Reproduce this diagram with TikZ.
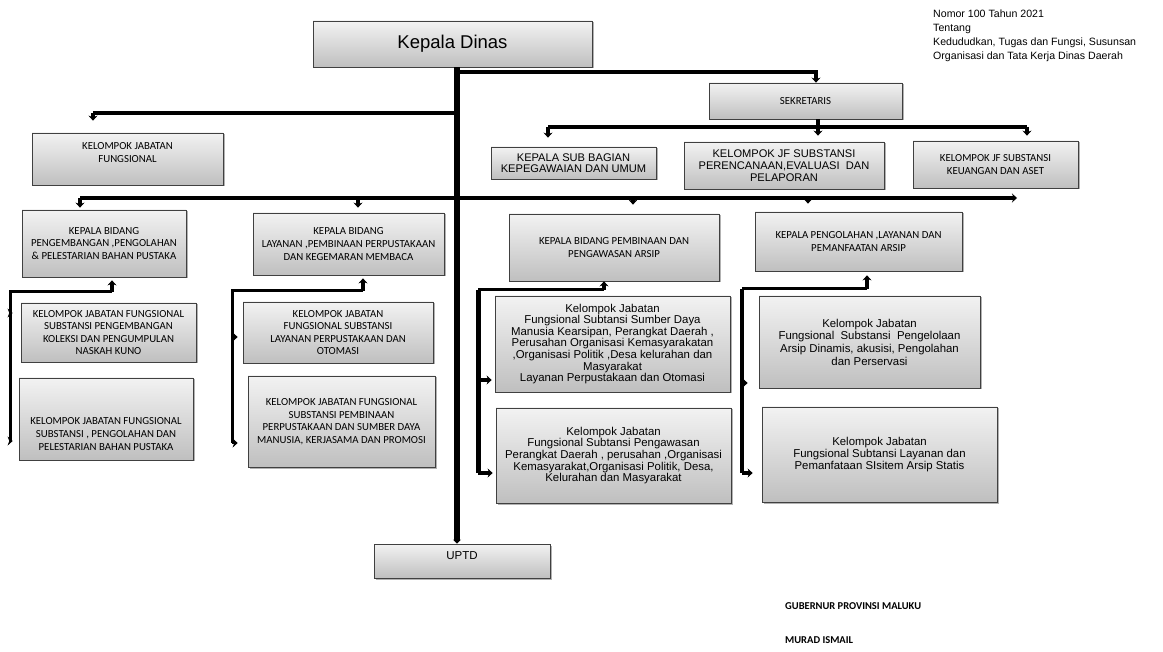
\documentclass[tikz,border=0pt]{standalone}
\usepackage{fontspec}
\setmainfont{Liberation Sans}
\newfontfamily\calib{Carlito}
\usetikzlibrary{arrows.meta,shadows}
\newcommand\bx[7]{\node[box,#6,minimum width={(#4-#2)*1pt},minimum height={(#5-#3)*1pt}] (#1) at ({(#2+#4)/2},{(#3+#5)/2}) {#7};}
\begin{document}
\begin{tikzpicture}[x=1pt,y=-1pt,
  box/.style={draw=black!75, line width=0.7pt, top color=gray!10, bottom color=gray!50,
    drop shadow={shadow xshift=1.5pt,shadow yshift=-1.5pt,opacity=0.3,fill=black},
    inner sep=0pt, align=center},
  ar/.style={font=\fontsize{11.4}{11.6}\selectfont},
  ca/.style={font=\calib\fontsize{10.8}{12.6}\selectfont},
  conn/.style={line width=3.5pt},
  arr/.style={line width=3.5pt,-{Stealth[length=5pt,width=9pt]}},
  plain/.style={inner sep=0pt, align=center}
]
\useasboundingbox (0,0) rectangle (1163,652);

% boxes
\bx{kd}{313}{21}{592}{67}{font=\fontsize{18.5}{20}\selectfont}{Kepala Dinas}
\bx{sek}{709}{83}{902}{119}{ca}{SEKRETARIS}
\bx{ksb}{491}{147}{656}{179}{font=\fontsize{11.1}{11.5}\selectfont}{KEPALA SUB BAGIAN\\KEPEGAWAIAN DAN UMUM}
\bx{kjfp}{684}{142}{884}{189}{font=\fontsize{11.1}{12}\selectfont}{KELOMPOK JF SUBSTANSI\\PERENCANAAN,EVALUASI\ \ DAN\\PELAPORAN}
\bx{kjfk}{913}{141}{1078}{188}{ca}{KELOMPOK JF SUBSTANSI\\KEUANGAN DAN ASET}
\bx{kjf}{32}{133}{223}{185}{}{}
\node[plain, ca] (kjft) at (127.5,152.5) {KELOMPOK JABATAN\\FUNGSIONAL};

\bx{kb1}{22}{210}{186}{277}{ca}{KEPALA BIDANG\\PENGEMBANGAN ,PENGOLAHAN\\\& PELESTARIAN BAHAN PUSTAKA}
\bx{kb2}{253}{213}{444}{275}{ca}{KEPALA BIDANG\\LAYANAN ,PEMBINAAN PERPUSTAKAAN\\DAN KEGEMARAN MEMBACA}
\bx{kb3}{509}{214}{719}{281}{ca}{KEPALA BIDANG PEMBINAAN DAN\\PENGAWASAN ARSIP}
\bx{kb4}{755}{212}{962}{271}{ca}{KEPALA PENGOLAHAN ,LAYANAN DAN\\PEMANFAATAN ARSIP}

\bx{s1a}{21}{303}{196}{362}{ca}{KELOMPOK JABATAN FUNGSIONAL\\SUBSTANSI PENGEMBANGAN\\KOLEKSI DAN PENGUMPULAN\\NASKAH KUNO}
\bx{s1b}{19}{378}{193}{460}{}{}
\node[plain, ca] (s1bt) at (106,434) {KELOMPOK JABATAN FUNGSIONAL\\SUBSTANSI , PENGOLAHAN DAN\\PELESTARIAN BAHAN PUSTAKA};
\bx{s2a}{243}{302}{433}{363}{ca}{KELOMPOK JABATAN\\FUNGSIONAL SUBSTANSI\\LAYANAN PERPUSTAKAAN DAN\\OTOMASI}
\bx{s2b}{248}{376}{435}{467}{ca}{KELOMPOK JABATAN FUNGSIONAL\\SUBSTANSI PEMBINAAN\\PERPUSTAKAAN DAN SUMBER DAYA\\MANUSIA, KERJASAMA DAN PROMOSI}
\bx{s3a}{495}{296}{730}{392}{ar}{Kelompok Jabatan\\Fungsional Subtansi Sumber Daya\\Manusia Kearsipan, Perangkat Daerah ,\\Perusahan Organisasi Kemasyarakatan\\,Organisasi Politik ,Desa kelurahan dan\\Masyarakat\\Layanan Perpustakaan dan Otomasi}
\bx{s3b}{496}{408}{731}{503}{ar}{Kelompok Jabatan\\Fungsional Subtansi Pengawasan\\Perangkat Daerah , perusahan ,Organisasi\\Kemasyarakat,Organisasi Politik, Desa,\\Kelurahan dan Masyarakat}
\bx{s4a}{759}{296}{980}{388}{font=\fontsize{11.4}{12.7}\selectfont}{Kelompok Jabatan\\Fungsional\ \ Substansi\ \ Pengelolaan\\Arsip Dinamis, akusisi, Pengolahan\\dan Perservasi}
\bx{s4b}{762}{407}{997}{502}{ar}{Kelompok Jabatan\\Fungsional Subtansi Layanan dan\\Pemanfataan SIsitem Arsip Statis}
\bx{uptd}{374}{544}{550}{578}{}{}
\node[plain, font=\fontsize{11.5}{12}\selectfont] (uptdt) at (462,556) {UPTD};

% free texts
\node[anchor=north west, align=left, inner sep=0pt, font=\fontsize{10.6}{14}\selectfont] (hdr) at (933,10)
  {Nomor 100 Tahun 2021\\Tentang\\Kedududkan, Tugas dan Fungsi, Susunsan\\Organisasi dan Tata Kerja Dinas Daerah};
\node[anchor=west, inner sep=0pt, font=\calib\bfseries\fontsize{10.5}{12}\selectfont] (gub) at (785,606) {GUBERNUR PROVINSI MALUKU};
\node[anchor=west, inner sep=0pt, font=\calib\bfseries\fontsize{10.5}{12}\selectfont] (mur) at (785,640) {MURAD ISMAIL};

% coordinates
\coordinate (tx) at (457,0);
\coordinate (J1) at (457,72);
\coordinate (J2) at (457,113);
\coordinate (J3) at (457,198);
\coordinate (sx) at (816,72);
\coordinate (sx2) at (818,0);
\coordinate (S0) at (818,127);
\coordinate (SL) at (548,127);
\coordinate (SR) at (1027,127);
\coordinate (KL) at (93,113);
\coordinate (BL) at (80,198);
\coordinate (BR) at (1017,198);
\coordinate (B2) at (358,198);
\coordinate (B3) at (633,198);
\coordinate (B4) at (808,198);
\coordinate (U1) at (112,292);
\coordinate (V1) at (10,292);
\coordinate (V1a) at (10,313);
\coordinate (V1b) at (10,441);
\coordinate (U2) at (363,291);
\coordinate (V2) at (232,291);
\coordinate (V2a) at (232,337);
\coordinate (V2b) at (232,443);
\coordinate (U3) at (604,290);
\coordinate (V3) at (478,290);
\coordinate (V3a) at (478,380);
\coordinate (V3b) at (478,473);
\coordinate (U4) at (867,289);
\coordinate (V4) at (742,289);
\coordinate (V4a) at (742,383);
\coordinate (V4b) at (742,473);

% trunk
\draw[line width=5.5pt,-{Stealth[length=4pt,width=8pt]}] (kd.south -| tx) -- (uptd.north -| tx);
% sekretaris
\draw[arr] (J1) -- (sx) -- (sek.north -| sx);
\draw[conn,line width=4pt] (sek.south -| sx2) -- (S0);
\draw[conn,line width=4pt] (SL) -- (SR);
\draw[arr,shorten >=9pt] (SL) -- (ksb.north -| SL);
\draw[arr,shorten >=6pt] (S0) -- (kjfp.north -| S0);
\draw[arr,shorten >=5pt] (SR) -- (kjfk.north -| SR);
% kelompok jabatan fungsional
\draw[conn] (J2) -- (KL);
\draw[arr,shorten >=12pt] (KL) -- (kjf.north -| KL);
% bidang line
\draw[conn,line width=4.5pt] (J3) -- (BL);
\draw[arr] (J3) -- (BR);
\draw[arr,shorten >=2pt] (BL) -- (kb1.north -| BL);
\draw[arr,shorten >=5pt] (B2) -- (kb2.north -| B2);
\draw[arr,shorten >=9pt] (B3) -- (kb3.north -| B3);
\draw[arr,shorten >=8pt] (B4) -- (kb4.north -| B4);
% bidang 1
\draw[arr,shorten >=3pt] (U1) -- (kb1.south -| U1);
\draw[conn,line width=3pt] (U1) -- (V1) -- (V1b);
\draw[arr,line width=3pt,shorten >=8pt] (V1a) -- (s1a.west |- V1a);
\draw[arr,line width=3pt,shorten >=6pt] (V1b) -- (s1b.west |- V1b);
% bidang 2
\draw[arr,shorten >=3pt] (U2) -- (kb2.south -| U2);
\draw[conn,line width=3pt] (U2) -- (V2) -- (V2b);
\draw[arr,line width=3pt,shorten >=5pt] (V2a) -- (s2a.west |- V2a);
\draw[arr,line width=3pt,shorten >=10pt] (V2b) -- (s2b.west |- V2b);
% bidang 3
\draw[arr] (U3) -- (kb3.south -| U3);
\draw[conn,line width=3pt] (U3) -- (V3);
\draw[conn,line width=5pt] (V3) -- (V3b);
\draw[arr,shorten >=3pt] (V3a) -- (s3a.west |- V3a);
\draw[arr,shorten >=3pt] (V3b) -- (s3b.west |- V3b);
% bidang 4
\draw[arr,shorten >=4pt] (U4) -- (kb4.south -| U4);
\draw[conn,line width=3pt] (U4) -- (V4);
\draw[conn,line width=4pt] (V4) -- (V4b);
\draw[arr,shorten >=11pt] (V4a) -- (s4a.west |- V4a);
\draw[arr,shorten >=9pt] (V4b) -- (s4b.west |- V4b);
\end{tikzpicture}
\end{document}
